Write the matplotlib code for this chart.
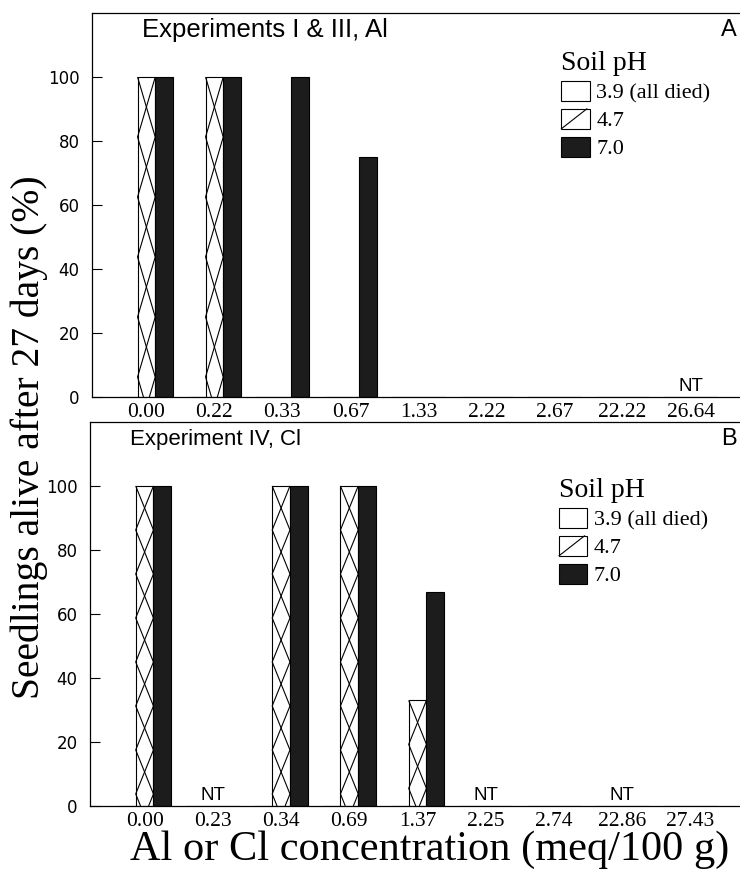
import numpy as np
import matplotlib.pyplot as plt
from matplotlib.patches import Patch, Rectangle
from matplotlib.lines import Line2D
from matplotlib.legend_handler import HandlerBase

# ── Data ──────────────────────────────────────────────────────────────────────
# nan = not tested (NT)
al_conc = ["0.00", "0.22", "0.33", "0.67", "1.33", "2.22", "2.67", "22.22", "26.64"]
al_ph39 = [0, 0, 0, 0, 0, 0, 0, 0, np.nan]
al_ph47 = [100, 100, 0, 0, 0, 0, 0, 0, np.nan]
al_ph70 = [100, 100, 100, 75, 0, 0, 0, 0, np.nan]

cl_conc = ["0.00", "0.23", "0.34", "0.69", "1.37", "2.25", "2.74", "22.86", "27.43"]
cl_ph39 = [0, np.nan, 0, 0, 0, np.nan, 0, np.nan, 0]
cl_ph47 = [100, np.nan, 100, 100, 33, np.nan, 0, np.nan, 0]
cl_ph70 = [100, np.nan, 100, 100, 67, np.nan, 0, np.nan, 0]

ph_labels = ["3.9 (all died)", "4.7", "7.0"]
yticks = [0, 20, 40, 60, 80, 100]

DARK = "#1c1c1c"
SERIF = "Liberation Serif"
SANS = "Liberation Sans"
LW = 0.8

fig = plt.figure(figsize=(7.4, 8.72), dpi=100)


class DiagBox(HandlerBase):
    """White legend box with a single diagonal, as in the printed key."""
    def create_artists(self, legend, orig, xd, yd, w, h, fontsize, trans):
        box = Rectangle((-xd, -yd), w, h, facecolor="white", edgecolor="black",
                        linewidth=LW, transform=trans)
        diag = Line2D([-xd, -xd + 0.9 * w], [-yd, -yd + h], color="black",
                      linewidth=LW, transform=trans)
        return [box, diag]


def cross_hatch(ax, xs, heights, width, step_px):
    # coarse X hatching drawn as two mirrored zigzags inside each bar
    y0, y1 = ax.get_ylim()
    step = step_px * (y1 - y0) / ax.bbox.height
    for xc, h in zip(xs, heights):
        if not h > 0:
            continue
        left, right = xc - width / 2, xc + width / 2
        ys = np.clip(np.arange(h, -step, -step), 0, h)
        n = len(ys)
        zig = np.where(np.arange(n) % 2 == 0, left, right)
        zag = np.where(np.arange(n) % 2 == 0, right, left)
        for pts in (zig, zag):
            xx = pts.astype(float).copy()
            # cut the last segment where it hits the baseline
            if n > 1 and ys[-1] == 0 and ys[-2] > 0:
                frac = ys[-2] / step
                xx[-1] = xx[-2] + (xx[-1] - xx[-2]) * frac
            ax.plot(xx, ys, color="black", linewidth=LW, solid_capstyle="butt")


def panel(rect, conc, p39, p47, p70, title, title_x, title_fs, letter,
          legend_xy, hatch_px):
    ax = fig.add_axes(rect)
    x = np.arange(len(conc))
    w = 0.26
    ax.set_xlim(-0.8, 8.72)
    ax.set_ylim(0, 120)

    ax.bar(x - w, np.nan_to_num(p39), w, color="white", edgecolor="black",
           linewidth=LW)
    ax.bar(x, np.nan_to_num(p47), w, color="white", edgecolor="black",
           linewidth=LW)
    cross_hatch(ax, x, np.nan_to_num(p47), w, hatch_px)
    ax.bar(x + w, np.nan_to_num(p70), w, color=DARK, edgecolor="black",
           linewidth=LW)

    for xi in x[np.isnan(np.array(p47, dtype=float))]:
        ax.text(xi, 0.5, "NT", ha="center", va="bottom", family=SANS,
                fontsize=13.5)

    ax.set_xticks(x, conc, family=SERIF, fontsize=15.5)
    ax.set_yticks(yticks, [str(v) for v in yticks], family="DejaVu Sans",
                  fontsize=12)
    ax.tick_params(axis="x", length=0, pad=4)
    ax.tick_params(axis="y", direction="in", length=7, width=0.8, pad=9)
    ax.spines["right"].set_visible(False)
    for s in ["left", "top", "bottom"]:
        ax.spines[s].set_linewidth(0.9)

    ax.text(title_x, 0.955, title, transform=ax.transAxes, family=SANS,
            fontsize=title_fs, va="center", ha="left")
    ax.text(0.995, 0.955, letter, transform=ax.transAxes, family=SANS,
            fontsize=17, va="center", ha="right")

    hatched = Patch()
    handles = [Patch(facecolor="white", edgecolor="black", linewidth=LW),
               hatched,
               Patch(facecolor=DARK, edgecolor="black", linewidth=LW)]
    ax.legend(handles, ph_labels, title="Soil pH", loc="upper left",
              bbox_to_anchor=legend_xy, frameon=False,
              handler_map={hatched: DiagBox()},
              prop={"family": SERIF, "size": 16},
              title_fontproperties={"family": SERIF, "size": 20},
              alignment="left", borderpad=0, borderaxespad=0,
              handlelength=1.27, handleheight=1.0, labelspacing=0.24,
              handletextpad=0.3)
    return ax


panel([0.1243, 0.5447, 0.875, 0.4404], al_conc, al_ph39, al_ph47, al_ph70,
      "Experiments I & III, Al", 0.077, 18.5, "A", (0.725, 0.902), 60)
panel([0.1216, 0.0757, 0.878, 0.4404], cl_conc, cl_ph39, cl_ph47, cl_ph70,
      "Experiment IV, Cl", 0.062, 16, "B", (0.722, 0.855), 44)

fig.text(0.040, 0.499, "Seedlings alive after 27 days (%)", rotation=90,
         ha="center", va="center", family=SERIF, fontsize=28.5)
fig.text(0.581, 0.026, "Al or Cl concentration (meq/100 g)", ha="center",
         va="center", family=SERIF, fontsize=30.5)

fig.savefig("out.png", dpi=100)
